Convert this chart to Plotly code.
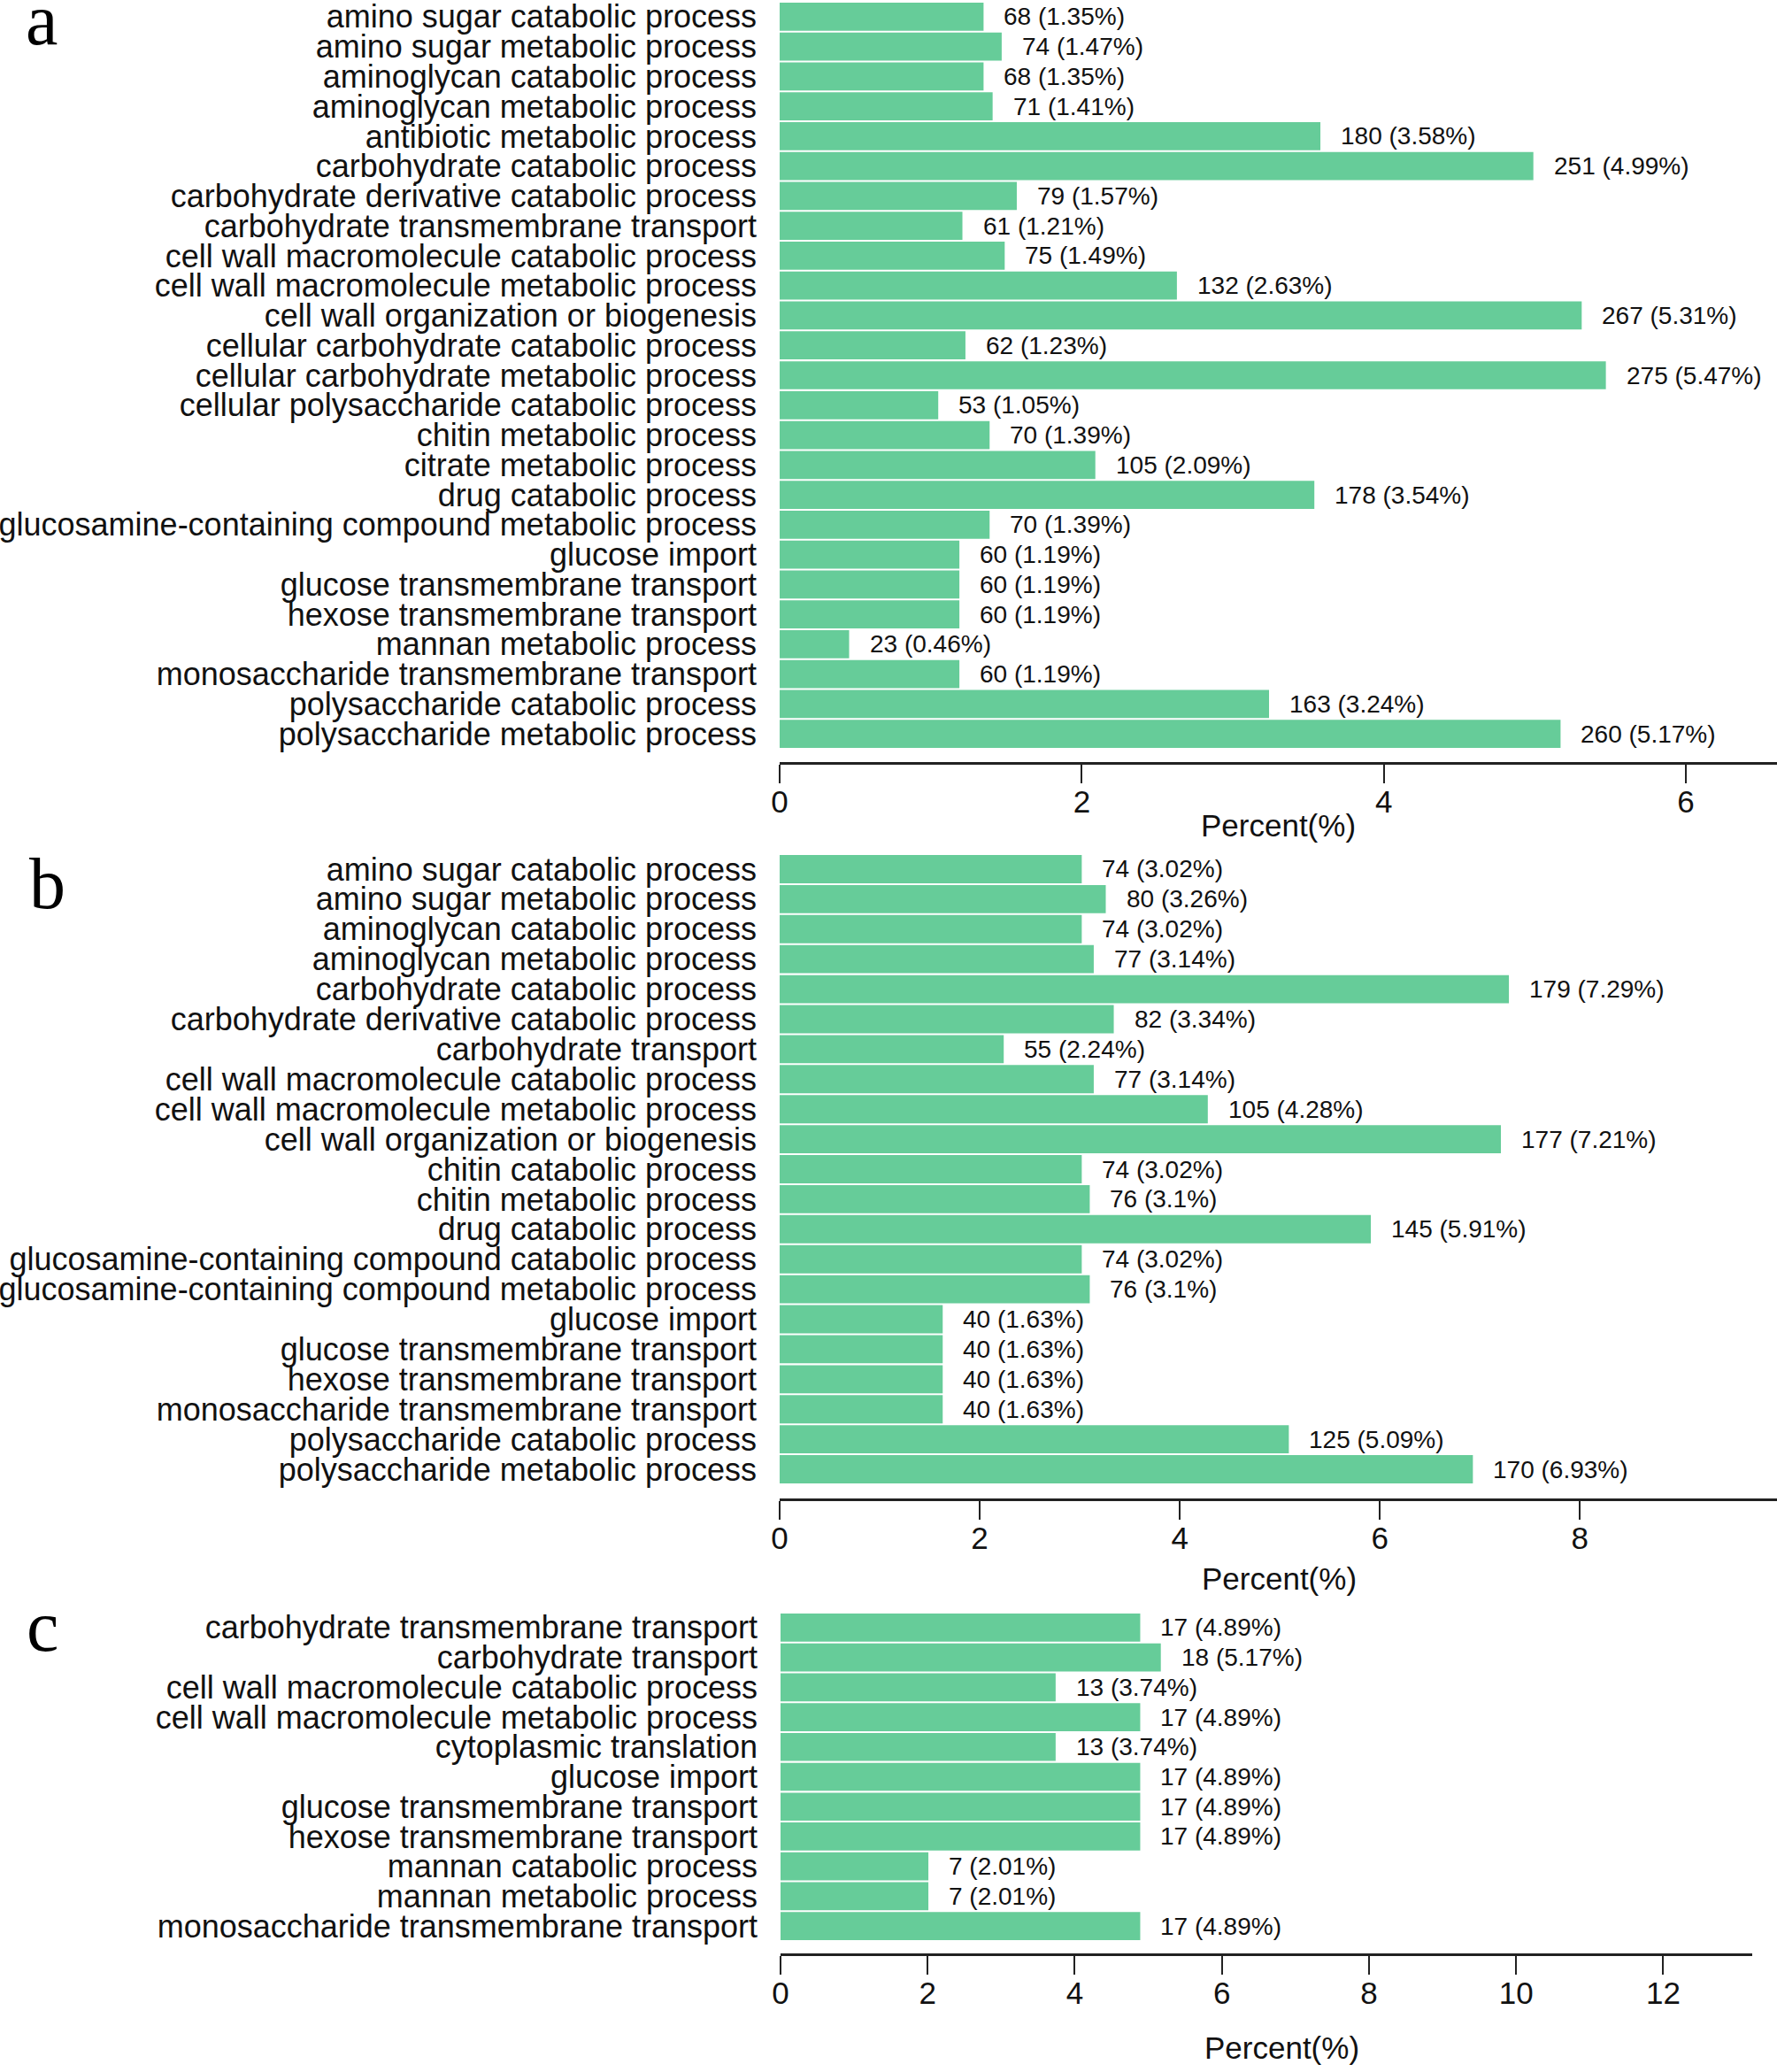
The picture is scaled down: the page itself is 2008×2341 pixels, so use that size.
import plotly.graph_objects as go

W, H = 2008, 2341
BAR_COLOR = "#66cc99"
SANS = "Liberation Sans, Arial, Helvetica, sans-serif"
SERIF = "Liberation Serif, Times New Roman, serif"

# ---------------- data ----------------
a_terms = [
    "amino sugar catabolic process", "amino sugar metabolic process",
    "aminoglycan catabolic process", "aminoglycan metabolic process",
    "antibiotic metabolic process", "carbohydrate catabolic process",
    "carbohydrate derivative catabolic process", "carbohydrate transmembrane transport",
    "cell wall macromolecule catabolic process", "cell wall macromolecule metabolic process",
    "cell wall organization or biogenesis", "cellular carbohydrate catabolic process",
    "cellular carbohydrate metabolic process", "cellular polysaccharide catabolic process",
    "chitin metabolic process", "citrate metabolic process", "drug catabolic process",
    "glucosamine-containing compound metabolic process", "glucose import",
    "glucose transmembrane transport", "hexose transmembrane transport",
    "mannan metabolic process", "monosaccharide transmembrane transport",
    "polysaccharide catabolic process", "polysaccharide metabolic process",
]
a_counts = [68, 74, 68, 71, 180, 251, 79, 61, 75, 132, 267, 62, 275, 53, 70, 105, 178,
            70, 60, 60, 60, 23, 60, 163, 260]
a_pcts = [1.35, 1.47, 1.35, 1.41, 3.58, 4.99, 1.57, 1.21, 1.49, 2.63, 5.31, 1.23, 5.47,
          1.05, 1.39, 2.09, 3.54, 1.39, 1.19, 1.19, 1.19, 0.46, 1.19, 3.24, 5.17]

b_terms = [
    "amino sugar catabolic process", "amino sugar metabolic process",
    "aminoglycan catabolic process", "aminoglycan metabolic process",
    "carbohydrate catabolic process", "carbohydrate derivative catabolic process",
    "carbohydrate transport", "cell wall macromolecule catabolic process",
    "cell wall macromolecule metabolic process", "cell wall organization or biogenesis",
    "chitin catabolic process", "chitin metabolic process", "drug catabolic process",
    "glucosamine-containing compound catabolic process",
    "glucosamine-containing compound metabolic process", "glucose import",
    "glucose transmembrane transport", "hexose transmembrane transport",
    "monosaccharide transmembrane transport", "polysaccharide catabolic process",
    "polysaccharide metabolic process",
]
b_counts = [74, 80, 74, 77, 179, 82, 55, 77, 105, 177, 74, 76, 145, 74, 76, 40, 40, 40,
            40, 125, 170]
b_pcts = [3.02, 3.26, 3.02, 3.14, 7.29, 3.34, 2.24, 3.14, 4.28, 7.21, 3.02, 3.1, 5.91,
          3.02, 3.1, 1.63, 1.63, 1.63, 1.63, 5.09, 6.93]

c_terms = [
    "carbohydrate transmembrane transport", "carbohydrate transport",
    "cell wall macromolecule catabolic process", "cell wall macromolecule metabolic process",
    "cytoplasmic translation", "glucose import", "glucose transmembrane transport",
    "hexose transmembrane transport", "mannan catabolic process",
    "mannan metabolic process", "monosaccharide transmembrane transport",
]
c_counts = [17, 18, 13, 17, 13, 17, 17, 17, 7, 7, 17]
c_pcts = [4.89, 5.17, 3.74, 4.89, 3.74, 4.89, 4.89, 4.89, 2.01, 2.01, 4.89]

axis_title = "Percent(%)"

# ---------------- layout geometry (pixels) ----------------
panels = [
    dict(terms=a_terms, counts=a_counts, pcts=a_pcts, letter="a",
         top=2, bars_bottom=846, axis_px=861, x0=881, x1=2008, xmax=6.603,
         title_xy=(1444, 932), letter_xy=(47, 70)),
    dict(terms=b_terms, counts=b_counts, pcts=b_pcts, letter="b",
         top=965, bars_bottom=1677, axis_px=1693, x0=881, x1=2008, xmax=9.97,
         title_xy=(1445, 1783), letter_xy=(53, 1046)),
    dict(terms=c_terms, counts=c_counts, pcts=c_pcts, letter="c",
         top=1822, bars_bottom=2193, axis_px=2207, x0=882, x1=1980, xmax=13.21,
         title_xy=(1448, 2313), letter_xy=(48, 1885)),
]


def fx(px):
    return px / W


def fy(px):
    return 1 - px / H


fig = go.Figure()
annotations = []
layout_axes = {}

for k, p in enumerate(panels, start=1):
    sfx = "" if k == 1 else str(k)
    n = len(p["terms"])
    ypos = list(range(n))
    fig.add_trace(go.Bar(
        x=p["pcts"], y=ypos, orientation="h",
        marker=dict(color=BAR_COLOR, line=dict(width=0)),
        width=0.94,
        xaxis="x" + sfx, yaxis="y" + sfx,
        showlegend=False, hoverinfo="skip",
    ))
    pitch = (p["bars_bottom"] - p["top"]) / n
    extra = (p["axis_px"] - p["bars_bottom"]) / pitch
    layout_axes["xaxis" + sfx] = dict(
        domain=[fx(p["x0"]), fx(p["x1"])], range=[0, p["xmax"]],
        anchor="y" + sfx, dtick=2, tick0=0,
        showline=True, linecolor="#222222", linewidth=3,
        ticks="outside", ticklen=21, tickwidth=2, tickcolor="#222222",
        tickfont=dict(family=SANS, size=35, color="#111111"),
        ticklabelstandoff=-9, automargin=False,
        showgrid=False, zeroline=False, fixedrange=True,
    )
    layout_axes["yaxis" + sfx] = dict(
        domain=[fy(p["axis_px"]), fy(p["top"])],
        range=[n - 0.5 + extra, -0.5],
        anchor="x" + sfx,
        tickmode="array", tickvals=ypos, ticktext=p["terms"],
        ticks="", showline=False, showgrid=False, zeroline=False,
        tickfont=dict(family=SANS, size=36, color="#111111"),
        ticklabelstandoff=25, ticklabeloverflow="allow",
        automargin=False, fixedrange=True,
    )
    for i, (cnt, pct) in enumerate(zip(p["counts"], p["pcts"])):
        annotations.append(dict(
            x=pct, y=i, xref="x" + sfx, yref="y" + sfx,
            text=f"{cnt} ({pct:g}%)", showarrow=False,
            xanchor="left", yanchor="middle", xshift=21,
            font=dict(family=SANS, size=28, color="#111111"),
        ))
    tx, ty = p["title_xy"]
    annotations.append(dict(
        x=fx(tx), y=fy(ty), xref="paper", yref="paper", text=axis_title,
        showarrow=False, xanchor="center", yanchor="middle",
        font=dict(family=SANS, size=35, color="#111111"),
    ))
    lx, ly = p["letter_xy"]
    annotations.append(dict(
        x=fx(lx), y=fy(ly), xref="paper", yref="paper", text=p["letter"],
        showarrow=False, xanchor="center", yanchor="bottom",
        font=dict(family=SERIF, size=82, color="#000000"),
    ))

fig.update_layout(
    template="none",
    width=W, height=H,
    margin=dict(l=0, r=0, t=0, b=0, pad=0, autoexpand=False),
    paper_bgcolor="white", plot_bgcolor="white",
    annotations=annotations,
    bargap=0.06,
    showlegend=False,
    **layout_axes,
)

fig.write_html(
    "out.html", include_plotlyjs=True, config=dict(displayModeBar=False),
    post_script="document.body.style.margin='0';",
)
